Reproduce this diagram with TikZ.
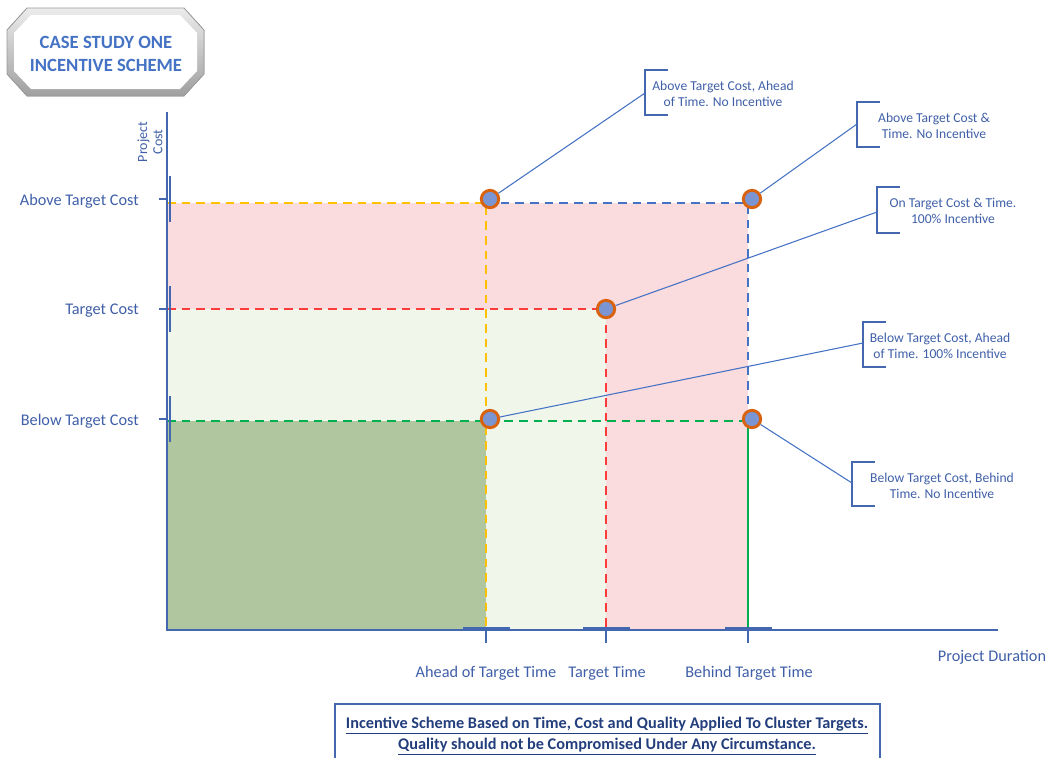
\documentclass[tikz,border=0pt]{standalone}
\usepackage{fontspec}
\setmainfont{Carlito}
\definecolor{axisblue}{HTML}{4468B0}
\definecolor{textblue}{HTML}{3F5FA8}
\definecolor{navy}{HTML}{233E7C}
\definecolor{titleblue}{HTML}{4472C4}
\definecolor{dorange}{HTML}{FFC000}
\definecolor{dblue}{HTML}{4472C4}
\definecolor{dred}{HTML}{FF3B3B}
\definecolor{dgreen}{HTML}{00B050}
\definecolor{redzone}{HTML}{FADBDE}
\definecolor{lightzone}{HTML}{F1F6EB}
\definecolor{darkzone}{HTML}{B0C69E}
\definecolor{ringorange}{HTML}{D9620F}
\definecolor{dotfill}{HTML}{7B95D3}
\begin{document}
\begin{tikzpicture}[x=0.75pt,y=-0.75pt,
  axis/.style={draw=axisblue,line width=1.4pt},
  guide/.style={line width=1.1pt,dash pattern=on 6.5pt off 4.5pt},
  marker/.style={circle,draw=ringorange,fill=dotfill,line width=2.2pt,minimum size=13pt,inner sep=0pt},
  lbl/.style={text=textblue,font=\fontsize{12.2}{14.6}\selectfont,inner sep=0pt},
  note/.style={text=textblue,font=\fontsize{10.2}{12.4}\selectfont,align=center,inner sep=0pt},
  bracket/.style={draw=axisblue,line width=1.5pt},
  leader/.style={draw=dblue,line width=0.8pt}]
\useasboundingbox (0,0) rectangle (1049,758);

% bevelled title plate
\fill[top color=gray!15,bottom color=gray!75,draw=gray!80,line width=0.6pt]
  (27,8)--(184,8)--(204,30)--(204,74)--(184,96)--(27,96)--(7,74)--(7,30)--cycle;
\fill[white] (31,15)--(180,15)--(197,33)--(197,71)--(180,89)--(31,89)--(14,71)--(14,33)--cycle;
\node[text=titleblue,font=\fontsize{14}{17}\selectfont\bfseries,align=center,inner sep=0pt] (title) at (106,54) {CASE STUDY ONE\\INCENTIVE SCHEME};

% zones
\fill[redzone] (167,203) rectangle (748,309);
\fill[redzone] (606,309) rectangle (748,630);
\fill[lightzone] (167,309) rectangle (606,421);
\fill[lightzone] (486,421) rectangle (606,630);
\fill[darkzone] (167,421) rectangle (486,630);

% dashed guides
\draw[guide,draw=dorange] (167,203)--(486,203)--(486,630);
\draw[guide,draw=dblue] (486,203)--(748,203)--(748,419);
\draw[guide,draw=dred] (167,309)--(606,309)--(606,630);
\draw[guide,draw=dgreen] (167,421)--(748,421);
\draw[line width=1.1pt,draw=dgreen] (748,421)--(748,630);

% axes and ticks
\draw[axis] (167,112)--(167,630)--(998,630);
\foreach \y in {199,309,419}{
  \draw[axis] (159,\y)--(168,\y);
  \draw[axis] (170,\y-23)--(170,\y+23);
}
\foreach \x in {486,606,748}{
  \draw[axis] (\x,630)--(\x,643);
  \draw[axis] (\x-23,628)--(\x+24,628);
}

% axis labels
\node[lbl,rotate=90,align=center,font=\fontsize{10.5}{11.5}\selectfont] (ylab) at (150,142) {Project\\Cost};
\node[lbl,anchor=east] (yhi) at (139,201) {Above Target Cost};
\node[lbl,anchor=east] (ymid) at (139,311) {Target Cost};
\node[lbl,anchor=east] (ylo) at (139,421) {Below Target Cost};
\node[lbl] (xa) at (486,673) {Ahead of Target Time};
\node[lbl] (xt) at (607,673) {Target Time};
\node[lbl] (xb) at (749,673) {Behind Target Time};
\node[lbl] (xlab) at (992,657) {Project Duration};

% callout brackets
\draw[bracket] (668,70)--(645,70)--(645,115)--(668,115);
\draw[bracket] (880,102)--(857,102)--(857,147)--(880,147);
\draw[bracket] (900,187)--(877,187)--(877,233)--(900,233);
\draw[bracket] (886,322)--(863,322)--(863,367)--(886,367);
\draw[bracket] (875,462)--(852,462)--(852,506)--(875,506);
\coordinate (b1) at (645,93);
\coordinate (b2) at (857,124);
\coordinate (b3) at (877,212);
\coordinate (b4) at (863,343);
\coordinate (b5) at (852,483);

\node[note] (n1) at (723,94) {Above Target Cost, Ahead\\of Time. No Incentive};
\node[note] (n2) at (934,126) {Above Target Cost \&\\Time. No Incentive};
\node[note] (n3) at (953,211) {On Target Cost \& Time.\\100\% Incentive};
\node[note] (n4) at (940,346) {Below Target Cost, Ahead\\of Time. 100\% Incentive};
\node[note] (n5) at (942,486) {Below Target Cost, Behind\\Time. No Incentive};

% markers
\node[marker] (c1) at (490,199) {};
\node[marker] (c2) at (752,199) {};
\node[marker] (c3) at (606,309) {};
\node[marker] (c4) at (490,419) {};
\node[marker] (c5) at (752,419) {};

\draw[leader] (c1)--(b1);
\draw[leader] (c2)--(b2);
\draw[leader] (c3)--(b3);
\draw[leader] (c4)--(b4);
\draw[leader] (c5)--(b5);

% footnote box
\draw[axisblue,line width=1.2pt] (335,758)--(335,704)--(880,704)--(880,758);
\node[text=navy,font=\fontsize{12.2}{15.8}\selectfont\bfseries,align=center,inner sep=0pt] (foot) at (607,736)
  {\underline{Incentive Scheme Based on Time, Cost and Quality Applied To Cluster Targets.}\\
   \underline{Quality should not be Compromised Under Any Circumstance.}};
\end{tikzpicture}
\end{document}
